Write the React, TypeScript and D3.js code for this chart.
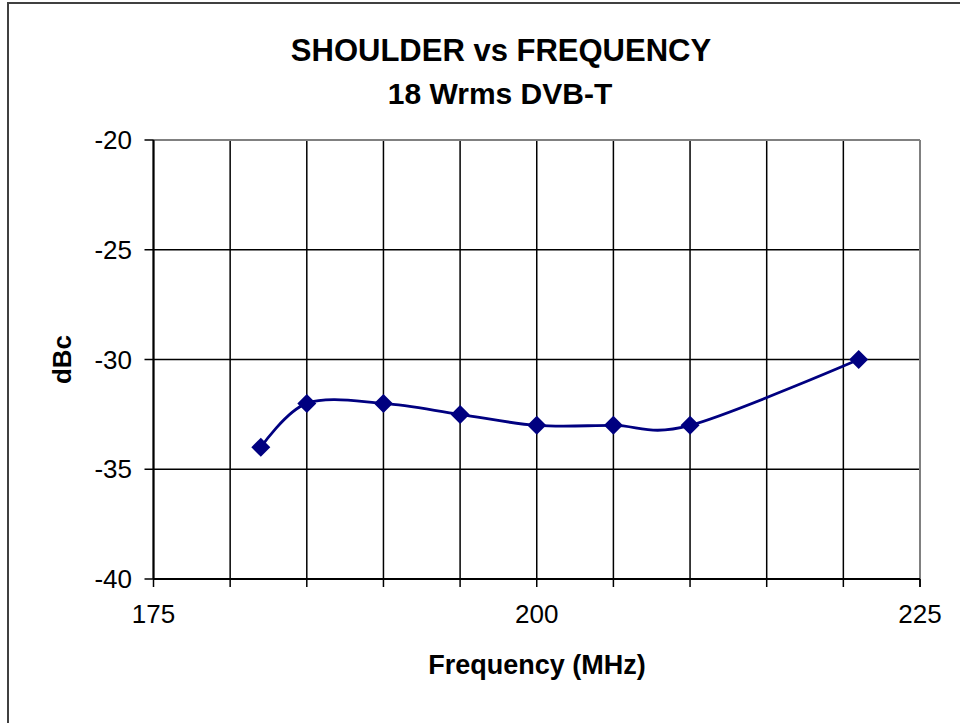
import React from "react";
import * as d3 from "d3";

const freqs = [182, 185, 190, 195, 200, 205, 210, 221];
const shoulder = [-34, -32, -32, -32.5, -33, -33, -33, -30];
const xTickLabels = [175, 200, 225];
const yTickLabels = [-20, -25, -30, -35, -40];
const xGrid = [175, 180, 185, 190, 195, 200, 205, 210, 215, 220, 225];

const W = 960;
const H = 723;
const left = 153.5;
const right = 920;
const top = 140;
const bottom = 579;
const navy = "#000080";
const font = "'Liberation Sans', Arial, sans-serif";

export default function App() {
  const x = d3.scaleLinear().domain([175, 225]).range([left, right]);
  const y = d3.scaleLinear().domain([-40, -20]).range([bottom, top]);
  const pts: [number, number][] = freqs.map((f, i) => [x(f), y(shoulder[i])]);
  const line = d3.line().curve(d3.curveCardinal.tension(0))(pts) || "";
  const diamond = (cx: number, cy: number, r: number) =>
    `M${cx},${cy - r}L${cx + r},${cy}L${cx},${cy + r}L${cx - r},${cy}Z`;

  return (
    <svg
      width={W}
      height={H}
      style={{ position: "absolute", left: 0, top: 0, display: "block", background: "#fff" }}
    >
      <rect x={0} y={0} width={W} height={H} fill="#fff" />
      {/* outer frame */}
      <rect x={8} y={3} width={W + 20} height={H + 20} fill="none" stroke="#404040" strokeWidth={2} />

      {/* titles */}
      <text x={501} y={61} textAnchor="middle" fontFamily={font} fontWeight="bold" fontSize={31} fill="#000">
        SHOULDER vs FREQUENCY
      </text>
      <text x={500} y={104} textAnchor="middle" fontFamily={font} fontWeight="bold" fontSize={30} fill="#000">
        18 Wrms DVB-T
      </text>

      {/* grid lines */}
      {xGrid.map((v) => (
        <line key={"gx" + v} x1={x(v)} x2={x(v)} y1={top} y2={bottom + 8} stroke="#000" strokeWidth={1.5} />
      ))}
      {yTickLabels.map((v) => (
        <line key={"gy" + v} x1={left - 9} x2={right} y1={y(v)} y2={y(v)} stroke="#000" strokeWidth={1.5} />
      ))}
      {/* plot border top/right gray */}
      <line x1={left} x2={right} y1={top} y2={top} stroke="#808080" strokeWidth={2} />
      <line x1={right} x2={right} y1={top} y2={bottom} stroke="#808080" strokeWidth={2} />
      {/* axes */}
      <line x1={left} x2={left} y1={top} y2={bottom} stroke="#000" strokeWidth={2} />
      <line x1={left} x2={right} y1={bottom} y2={bottom} stroke="#000" strokeWidth={2} />
      <line x1={right} x2={right} y1={bottom} y2={bottom + 8} stroke="#000" strokeWidth={1.5} />

      {/* y tick labels */}
      {yTickLabels.map((v) => (
        <text key={"yl" + v} x={132} y={y(v) + 9} textAnchor="end" fontFamily={font} fontSize={26} fill="#000">
          {v}
        </text>
      ))}
      {/* x tick labels */}
      {xTickLabels.map((v) => (
        <text key={"xl" + v} x={x(v)} y={623} textAnchor="middle" fontFamily={font} fontSize={26} fill="#000">
          {v}
        </text>
      ))}

      {/* axis titles */}
      <text
        transform={`translate(71,${(top + bottom) / 2}) rotate(-90)`}
        textAnchor="middle"
        fontFamily={font}
        fontWeight="bold"
        fontSize={26}
        fill="#000"
      >
        dBc
      </text>
      <text x={537} y={674} textAnchor="middle" fontFamily={font} fontWeight="bold" fontSize={27} fill="#000">
        Frequency (MHz)
      </text>

      {/* series */}
      <path d={line} fill="none" stroke={navy} strokeWidth={2.8} />
      {pts.map(([cx, cy], i) => (
        <path key={"m" + i} d={diamond(cx, cy, 9.5)} fill={navy} />
      ))}
    </svg>
  );
}
